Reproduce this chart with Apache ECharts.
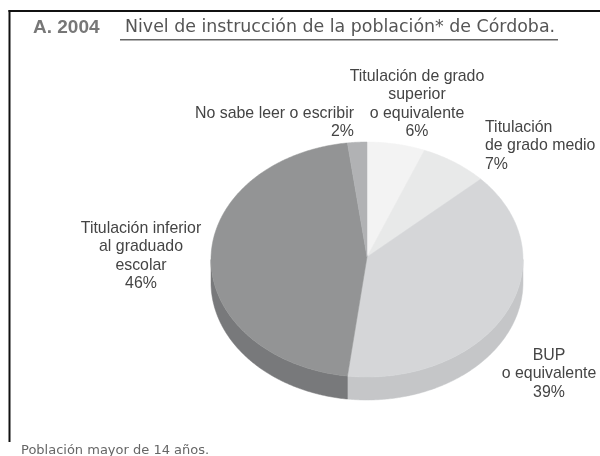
<!DOCTYPE html>
<html><head><meta charset="utf-8">
<style>html,body{margin:0;padding:0;background:#fff}#c{width:600px;height:456px}</style>
<script src="https://cdn.jsdelivr.net/npm/echarts@6/dist/echarts.min.js"></script>
</head><body><div id="c"></div>
<script>
const categories = ['Titulación de grado superior o equivalente','Titulación de grado medio','BUP o equivalente','Titulación inferior al graduado escolar','No sabe leer o escribir'];
const values = [6,7,39,46,2];
const topColors = ['#f3f3f3','#e8e9e9','#d5d6d8','#939495','#b1b2b4'];
const wallColors = ['#e0e0e0','#d8d8d8','#c5c6c8','#78797b','#999a9c'];
const labelLines = [
  ['Titulación de grado','superior','o equivalente','6%'],
  ['Titulación','de grado medio','7%'],
  ['BUP','o equivalente','39%'],
  ['Titulación inferior','al graduado','escolar','46%'],
  ['No sabe leer o escribir','2%']
];
const titleYear='A. 2004', titleText='Nivel de instrucción de la población* de Córdoba.', footnote='Población mayor de 14 años.';

const geo={cx:367,cy:259.5,rx:156,ry:117.5,depth:23};
const total=values.reduce((a,b)=>a+b,0);
const pt=(a,dy)=>[geo.cx+geo.rx*Math.sin(a),geo.cy+geo.ry*(-Math.cos(a))+(dy||0)];
let acc=0;
const slices=values.map((v,i)=>{const s=acc/total*2*Math.PI;acc+=v;const e=acc/total*2*Math.PI;return {i,s,e};});
function arc(s,e,dy){const n=Math.max(2,Math.ceil((e-s)/0.01));const o=[];for(let k=0;k<=n;k++)o.push(pt(s+(e-s)*k/n,dy));return o;}
function renderWall(params,api){
  const sl=slices[params.dataIndex];
  const s=Math.max(sl.s,Math.PI/2), e=Math.min(sl.e,Math.PI*1.5);
  if(e<=s) return null;
  const top=arc(s,e,0), bot=arc(s,e,geo.depth).reverse();
  return {type:'polygon',shape:{points:top.concat(bot)},style:{fill:wallColors[sl.i],stroke:wallColors[sl.i],lineWidth:0.5}};
}
function renderTop(params,api){
  const sl=slices[params.dataIndex];
  const pts=[[geo.cx,geo.cy-2.5]].concat(arc(sl.s,sl.e,0));
  return {type:'polygon',shape:{points:pts},style:{fill:topColors[sl.i],stroke:topColors[sl.i],lineWidth:0.5}};
}
const textColor='#444';
const labelPos=[
  {x:417,y:67,align:'center'},
  {x:485,y:118,align:'left'},
  {x:549,y:346,align:'center'},
  {x:141,y:219,align:'center'},
  {x:354,y:104,align:'right'}
];
const graphic=[
 {type:'rect',shape:{x:8.5,y:10,width:591.5,height:2},style:{fill:'#111'},silent:true},
 {type:'rect',shape:{x:8.5,y:10,width:2,height:432},style:{fill:'#111'},silent:true},
 {type:'rect',shape:{x:120,y:39,width:438,height:1.5},style:{fill:'#666'},silent:true},
 {type:'text',x:33,y:18,style:{text:titleYear,font:'bold 19px "Liberation Sans"',fill:'#777'}},
 {type:'text',x:125,y:19,style:{text:titleText,font:'17.4px "DejaVu Sans"',fill:'#555'}},
 {type:'text',x:21,y:444,style:{text:footnote,font:'13px "DejaVu Sans"',fill:'#666'}}
];
labelLines.forEach((lines,i)=>{
  const p=labelPos[i];
  graphic.push({type:'text',x:p.x,y:p.y,style:{text:lines.join('\n'),font:'15.9px "Liberation Sans"',fill:textColor,align:p.align,lineHeight:18.5}});
});
const chart=echarts.init(document.getElementById('c'));
chart.setOption({
  animation:false,
  backgroundColor:'#fff',
  graphic:graphic,
  series:[
    {type:'custom',name:categories.join('; '),coordinateSystem:'none',renderItem:renderWall,data:values,silent:true,z:1},
    {type:'custom',coordinateSystem:'none',renderItem:renderTop,data:values,silent:true,z:2}
  ]
});
</script></body></html>
